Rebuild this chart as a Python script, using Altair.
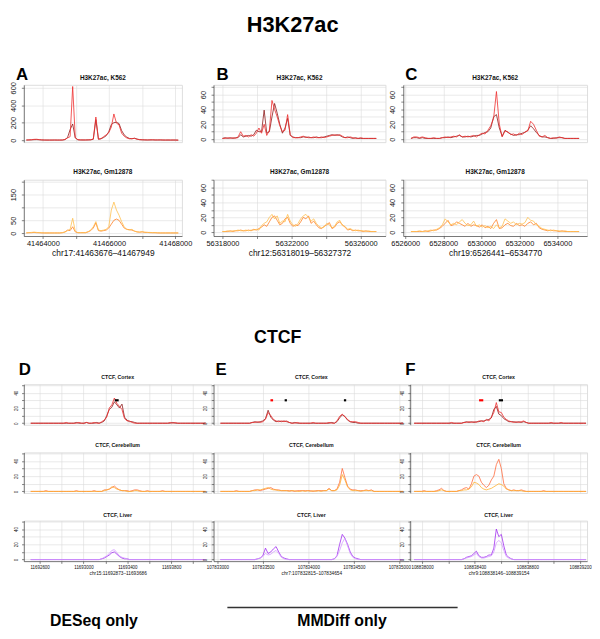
import altair as alt
import pandas as pd

FONT = "Liberation Sans"
GRID = "#dcdcdc"
AXC = "#333333"

# colours
K562_DARK, K562_RED = "#8b1a1a", "#ee2c2c"
GM_DARK, GM_LIGHT = "#ff7f24", "#ffc04d"
CER_DARK, CER_LIGHT = "#ff6a3d", "#ffb02e"
LIV_DARK, LIV_LIGHT = "#a02cf0", "#d49cff"

# ---------------- H3K27ac data ----------------
A_RANGE = [41463500, 41468090]
A_K562_RED = [2,3,5,9,10,6,3,2,1,1, 1,2,1,1,2,8,25,40,615,30, 5,3,2,2,3,4,12,265,12,18,
              40,60,85,150,300,195,175,80,45,25, 15,18,20,10,5,4,3,2,3,4, 2,2,3,2,1,2,1,2,1,0]
A_K562_DARK = [1,2,3,5,6,4,2,1,1,1, 1,1,1,1,1,6,30,120,185,25, 4,2,2,2,3,4,10,235,10,15,
               30,50,95,180,200,205,190,110,60,35, 20,15,22,12,6,4,3,2,3,3, 2,2,2,1,1,1,1,1,1,0]
A_GM_LIGHT = [2,2,3,4,3,2,2,1,1,1, 1,1,1,1,2,4,10,15,58,8, 2,2,2,2,6,12,25,45,12,10,
              12,15,25,90,121,90,70,45,25,15, 12,15,8,5,4,6,4,3,3,2, 2,2,1,1,1,1,1,1,1,1]
A_GM_DARK = [1,2,2,3,2,2,1,1,1,1, 1,1,1,1,2,5,12,10,25,5, 2,2,2,2,5,10,20,40,10,8,
             10,12,20,35,50,55,50,35,20,15, 14,12,8,5,4,5,3,3,2,2, 2,1,1,1,1,1,1,1,1,1]

B_RANGE = [56318000, 56326900]
B_K562_RED = [1,1,2,1,2,1,3,10,4,5, 3,6,4,8,15,8,20,5,12,52, 40,30,18,10,12,33,6,2,2,2,
              3,4,2,3,2,3,2,2,3,2, 3,4,5,6,5,6,4,2,2,3, 2,1,1,2,1,1,1,1,1,1]
B_K562_DARK = [1,2,1,2,1,2,2,6,3,4, 5,4,6,12,10,10,39,8,10,30, 48,35,20,8,15,28,5,3,2,2,
               2,3,3,2,2,2,3,2,2,3, 4,5,6,5,6,5,3,2,3,2, 1,2,1,1,1,1,1,1,1,1]
B_GM_LIGHT = [1,1,2,1,2,2,3,2,2,3, 2,3,3,4,3,9,12,14,20,24, 18,22,12,15,14,24,15,10,8,12,
              18,22,24,20,15,18,12,8,6,7, 12,10,6,8,14,16,9,8,4,5, 3,2,3,2,2,1,2,1,1,1]
B_GM_DARK = [1,1,1,2,1,2,2,3,2,2, 3,2,4,3,5,7,10,8,14,20, 22,16,10,12,18,20,12,8,10,9,
             14,20,18,22,12,15,10,6,5,8, 10,13,5,7,12,14,10,7,3,4, 2,3,2,2,1,2,1,1,1,1]

C_RANGE = [6526300, 6535140]
C_K562_RED = [1,3,3,2,3,2,1,1,2,1, 1,2,3,2,3,4,3,6,3,4, 3,4,5,3,6,8,7,12,18,28,
              64,20,3,11,10,6,7,5,8,6, 10,11,24,20,12,4,3,5,2,1, 2,1,3,2,1,1,1,1,1,1]
C_K562_DARK = [1,2,2,1,2,1,1,1,1,1, 1,2,2,3,2,3,4,5,3,3, 4,3,4,5,5,7,9,10,15,30,
               33,15,4,12,9,7,5,6,6,8, 9,12,18,14,9,5,3,3,2,1, 1,2,2,2,1,1,1,1,1,1]
C_GM_LIGHT = [1,1,1,2,1,1,2,3,2,4, 6,10,18,14,10,12,10,14,17,12, 9,10,15,8,10,7,9,6,8,5,
              10,6,8,18,15,12,14,10,12,11, 13,20,16,15,10,8,5,4,3,2, 3,2,2,1,2,1,1,1,1,1]
C_GM_DARK = [1,1,1,1,1,2,1,2,3,3, 5,8,12,16,9,10,14,12,10,8, 12,8,10,9,7,10,6,8,5,12,
             17,5,6,10,12,9,8,12,9,10, 8,12,14,10,12,6,4,3,2,3, 2,2,1,2,1,1,1,1,1,1]

# ---------------- CTCF data ----------------
D_RANGE = [11692519, 11694114]
D_COR_RED = [0,0,0,0,0,0,0,0,0,0, 0,0,0,0,1,0,0,0,0,1, 0,0,1,0,0,1,0,0,2,4,
             8,20,24,33,26,22,18,6,3,3, 1,0,0,0,0,0,0,0,0,0, 0,0,0,0,0,1,0,1,0,0, 0,0,0,0,0,0,0,0,0,0]
D_COR_DARK = [0,0,0,0,0,0,0,0,0,0, 0,0,0,0,0,0,0,0,1,0, 0,0,1,0,0,0,1,0,1,3,
              10,18,21,28,24,20,25,8,4,2, 2,1,0,0,0,0,0,0,0,0, 0,0,0,0,0,0,1,0,0,0, 0,0,0,0,0,0,0,0,0,0]
D_CER_DARK = [0,0,0,0,0,0,1,0,0,0, 0,0,0,0,0,0,0,0,1,0, 0,0,0,0,0,1,0,0,0,2,
              2,3,5,7,4,2,1,1,1,0, 1,2,2,1,0,0,1,0,0,0, 0,0,1,0,0,0,0,0,0,0, 0,0,0,0,0,0,0,0,0,0]
D_CER_LIGHT = [0,0,0,0,0,0,0,0,0,0, 0,0,0,0,0,0,0,0,0,0, 0,0,0,0,0,0,0,0,0,1,
               2,3,6,5,3,2,1,1,0,0, 0,1,1,0,0,0,0,0,0,0, 0,0,0,0,0,0,0,0,0,0, 0,0,0,0,0,0,0,0,0,0]
D_LIV_DARK = [0,0,0,0,0,0,0,0,0,0, 0,0,0,0,0,0,0,0,0,0, 0,0,0,0,0,0,0,0,1,2,
              4,6,9,10,7,4,2,1,1,0, 0,0,0,0,0,0,0,0,0,0, 0,0,0,0,0,0,0,0,0,0, 0,0,0,0,0,0,0,0,0,0]
D_LIV_LIGHT = [0,0,0,0,0,0,0,0,0,0, 0,0,0,0,0,0,0,0,0,0, 0,0,0,0,0,0,0,0,1,3,
               5,8,12,13,9,5,3,2,1,0, 0,0,0,0,0,0,0,0,0,0, 0,0,0,0,0,0,0,0,0,0, 0,0,0,0,0,0,0,0,0,0]
D_MARK_BLACK = [[11693285, 11693321]]
D_MARK_RED = []

E_RANGE = [107833033, 107835043]
E_COR_RED = [0,0,0,0,0,0,0,0,0,0, 0,0,1,1,2,1,2,5,14,10, 5,3,2,3,2,3,1,0,0,1,
             0,0,0,0,0,1,0,0,0,0, 0,1,0,0,3,9,12,8,5,2, 2,2,1,0,0,0,0,0,0,0, 0,0,0,0,0,0,0,0,0,0]
E_COR_DARK = [0,0,0,0,0,0,0,0,0,0, 0,0,1,2,1,2,3,6,17,8, 4,2,3,2,3,2,1,0,1,0,
              0,0,0,0,0,0,0,0,0,0, 0,0,1,0,2,7,11,9,4,2, 1,1,0,0,0,0,0,0,0,0, 0,0,0,0,0,0,0,0,0,0]
E_CER_DARK = [0,0,0,0,0,0,1,0,0,0, 0,0,1,2,2,1,2,3,4,5, 3,2,2,1,1,1,1,1,0,1,
              1,1,1,1,1,0,1,1,1,1, 1,4,1,1,3,12,30,18,7,3, 2,2,1,1,1,2,1,2,0,0, 0,0,0,0,0,0,0,0,0,0]
E_CER_LIGHT = [0,0,0,0,0,0,0,0,0,0, 0,0,1,1,2,2,3,4,5,3, 2,2,1,1,1,1,0,1,1,0,
               0,1,0,1,0,1,0,1,0,1, 1,3,1,1,2,8,22,15,6,2, 1,1,1,0,1,1,1,1,0,0, 0,0,0,0,0,0,0,0,0,0]
E_LIV_DARK = [0,0,0,0,0,0,0,0,0,0, 0,0,0,0,1,2,5,15,8,10, 14,17,10,4,2,1,0,0,0,0,
              0,0,0,0,0,0,0,0,0,0, 0,0,0,1,5,20,33,28,20,10, 4,2,1,0,0,0,0,0,0,0, 0,0,0,0,0,0,0,0,0,0]
E_LIV_LIGHT = [0,0,0,0,0,0,0,0,0,0, 0,0,0,0,1,2,4,8,6,7, 10,12,8,3,1,0,0,0,0,0,
               0,0,0,0,0,0,0,0,0,0, 0,0,0,1,4,12,22,28,18,8, 3,1,0,0,0,0,0,0,0,0, 0,0,0,0,0,0,0,0,0,0]
E_MARK_BLACK = [[107833739, 107833764], [107834391, 107834416]]
E_MARK_RED = [[107833583, 107833612]]

F_RANGE = [108837940, 108839245]
F_COR_RED = [0,0,0,0,0,0,0,0,0,0, 0,0,0,0,0,1,0,0,0,0, 1,1,2,1,2,1,3,3,2,5,
             3,8,14,27,15,14,8,5,3,2, 1,2,1,2,3,1,0,0,0,0, 0,0,0,0,0,1,0,0,0,1, 0,0,0,0,0,0,0,0,0,0]
F_COR_DARK = [0,0,0,0,0,0,0,0,0,0, 0,0,0,0,0,0,0,0,0,0, 1,2,1,2,1,2,2,3,3,4,
              5,7,18,22,12,10,6,4,2,2, 2,1,2,1,2,1,0,0,0,0, 0,0,0,0,0,0,0,0,0,0, 0,0,0,0,0,0,0,0,0,0]
F_CER_DARK = [0,0,0,0,1,0,0,0,0,1, 2,4,1,0,0,0,0,0,1,2, 4,5,3,10,20,22,20,12,8,5,
              8,15,20,35,42,30,10,4,2,1, 2,1,1,2,1,0,0,0,0,0, 0,0,1,0,0,0,0,0,0,0, 0,0,0,0,0,0,0,0,0,0]
F_CER_LIGHT = [0,0,0,0,0,0,0,0,0,0, 1,2,1,0,0,0,0,0,1,1, 2,2,3,6,12,11,9,5,3,2,
               3,4,6,8,10,9,7,3,2,1, 1,1,1,1,0,0,0,0,0,0, 0,0,0,0,0,0,0,0,0,0, 0,0,0,0,0,0,0,0,0,0]
F_LIV_DARK = [0,0,0,0,0,0,0,0,0,0, 0,0,0,0,0,0,0,0,0,0, 1,3,4,5,8,11,5,3,3,4,
              6,6,15,40,30,33,18,6,3,1, 0,0,0,0,0,0,0,0,0,0, 0,0,0,0,0,0,0,0,0,0, 0,0,0,0,0,0,0,0,0,0]
F_LIV_LIGHT = [0,0,0,0,0,0,0,0,0,0, 0,0,0,0,0,0,0,0,0,0, 1,2,3,4,6,8,4,2,2,3,
               4,5,10,22,25,22,12,4,2,1, 0,0,0,0,0,0,0,0,0,0, 0,0,0,0,0,0,0,0,0,0, 0,0,0,0,0,0,0,0,0,0]
F_MARK_BLACK = [[108838583, 108838615]]
F_MARK_RED = [[108838433, 108838465]]
MARK_LEVEL = 30

# tick values / labels
A_XT = [41464000, 41465000, 41466000, 41467000, 41468000]
A_XL = [41464000, 41466000, 41468000]
B_XT = [56318000, 56320000, 56322000, 56324000, 56326000]
B_XL = [56318000, 56322000, 56326000]
C_XT = [6526000, 6528000, 6530000, 6532000, 6534000]
D_XT = [11692600, 11692800, 11693000, 11693200, 11693400, 11693600, 11693800, 11694000]
D_XL = [11692600, 11693000, 11693400, 11693800]
E_XT = [107833000, 107833500, 107834000, 107834500, 107835000]
F_XT = [108838000, 108838200, 108838400, 108838600, 108838800, 108839000, 108839200]
F_XL = [108838000, 108838400, 108838800, 108839200]
Y_A1 = [0, 200, 400, 600]
Y_A2 = [0, 50, 100, 150, 200]
Y_A2L = [0, 50, 150]
Y_BC = [0, 10, 20, 30, 40, 50, 60, 70]
Y_BCL = [0, 20, 40, 60]
Y_CT = [0, 10, 20, 30, 40, 50]
Y_CTL = [0, 20, 40]


def series_df(rng, vals):
    n = len(vals)
    step = (rng[1] - rng[0]) / (n - 1)
    return pd.DataFrame({"pos": [rng[0] + i * step for i in range(n)], "val": vals})


def lab_expr(labs):
    return "indexof([" + ",".join(str(v) for v in labs) + "], datum.value) >= 0 ? datum.label : ''"


def text_layer(t, x, y, size, align="center"):
    return alt.Chart(pd.DataFrame({"a": [0]})).mark_text(
        text=t, font=FONT, fontSize=size, fontWeight="bold", align=align,
        baseline="middle", color="#000").encode(x=alt.value(x), y=alt.value(y))


def panel(rng, back, front, cols, xdom, ydom, w, h, title, tsize, ty,
          yvals, ylabs, xvals, lsize, xlabs=None, xtitle=None, xtsize=8,
          marks=None, tick=2.5, ypad=4, extra_text=(), extra_rules=()):
    xs = alt.Scale(domain=xdom, nice=False, zero=False)
    ys = alt.Scale(domain=ydom, nice=False, zero=False)
    yax = alt.Axis(values=yvals, labelExpr=lab_expr(ylabs), format="d", labelAngle=270,
                   labelAlign="center", labelBaseline="bottom", labelFontSize=lsize,
                   labelFont=FONT, labelColor="#111", labelPadding=ypad, tickSize=tick,
                   tickColor=AXC, tickWidth=0.6, domainColor=AXC, domainWidth=0.6,
                   grid=True, gridColor=GRID, gridWidth=0.6, title=None, labelOverlap=False)
    if xlabs is None:
        xax = alt.Axis(values=xvals, labels=False, ticks=False, domain=False, grid=True,
                       gridColor=GRID, gridWidth=0.6, title=None)
    else:
        xax = alt.Axis(values=xvals, labelExpr=lab_expr(xlabs), format="d", labelFontSize=lsize,
                       labelFont=FONT, labelColor="#111", labelPadding=1.5, tickSize=tick,
                       tickColor=AXC, tickWidth=0.6, domainColor=AXC, domainWidth=0.6,
                       grid=True, gridColor=GRID, gridWidth=0.6, title=xtitle, titleFont=FONT,
                       titleFontSize=xtsize, titleFontWeight="normal", titleColor="#111",
                       titlePadding=1.5, labelFlush=False, labelOverlap=False)
    layers = []
    for vals, col in ((back, cols[0]), (front, cols[1])):
        layers.append(alt.Chart(series_df(rng, vals)).mark_line(
            stroke=col, strokeWidth=0.8, clip=True).encode(
            x=alt.X("pos:Q", scale=xs, axis=xax), y=alt.Y("val:Q", scale=ys, axis=yax)))
    if marks:
        for segs, col in marks:
            if not segs:
                continue
            mdf = pd.DataFrame({"x1": [s[0] for s in segs], "x2": [s[1] for s in segs],
                                "y": [MARK_LEVEL] * len(segs)})
            layers.append(alt.Chart(mdf).mark_rule(stroke=col, strokeWidth=2.2).encode(
                x=alt.X("x1:Q", scale=xs, axis=xax), x2="x2:Q",
                y=alt.Y("y:Q", scale=ys, axis=yax)))
    # panel title
    layers.append(alt.Chart(pd.DataFrame({"a": [0]})).mark_text(
        text=title, font=FONT, fontSize=tsize, fontWeight="bold", align="center",
        baseline="middle", color="#111").encode(x=alt.value(w / 2), y=alt.value(ty)))
    for t, x, y, size, align in extra_text:
        layers.append(text_layer(t, x, y, size, align))
    for x1, x2, y in extra_rules:
        layers.append(alt.Chart(pd.DataFrame({"a": [0]})).mark_rule(
            stroke="#333", strokeWidth=1.4).encode(x=alt.value(x1), x2=alt.value(x2), y=alt.value(y)))
    return alt.layer(*layers).properties(width=w, height=h)


def spacer(w, h):
    return alt.Chart(pd.DataFrame({"a": [0]})).mark_point(opacity=0).properties(width=w, height=h)


# ---------------- section 1 : H3K27ac ----------------
W1 = [13, 160, 32, 174, 18, 186]
H1 = [74, 58, 38, 57, 27]
TOP_LS, TOP_TS, TOP_TT = 7.5, 8.5, 6.5

A_DOM = [41463424, 41468200]
B_DOM = [56317486, 56327430]
C_DOM = [6525896, 6535558]

a1 = panel(A_RANGE, A_K562_DARK, A_K562_RED, (K562_DARK, K562_RED), A_DOM, [-23, 634], W1[1], H1[1],
           "H3K27ac, K562", TOP_TT, -6.5, Y_A1, Y_A1, A_XT, TOP_LS,
           extra_text=[("A", -8, -10, 17, "left")])
b1 = panel(B_RANGE, B_K562_DARK, B_K562_RED, (K562_DARK, K562_RED), B_DOM, [-4, 73], W1[3], H1[1],
           "H3K27ac, K562", TOP_TT, -6.5, Y_BC, Y_BCL, B_XT, TOP_LS,
           extra_text=[("B", 3, -10, 17, "left"), ("H3K27ac", 80, -60, 22, "center")])
c1 = panel(C_RANGE, C_K562_DARK, C_K562_RED, (K562_DARK, K562_RED), C_DOM, [-4, 73], W1[5], H1[1],
           "H3K27ac, K562", TOP_TT, -6.5, Y_BC, Y_BCL, C_XT, TOP_LS,
           extra_text=[("C", 2, -10, 17, "left")])
a2 = panel(A_RANGE, A_GM_DARK, A_GM_LIGHT, (GM_DARK, GM_LIGHT), A_DOM, [-11, 208], W1[1], H1[3],
           "H3K27ac, Gm12878", TOP_TT, -8, Y_A2, Y_A2L, A_XT, TOP_LS, xlabs=A_XL,
           xtitle="chr17:41463676\u201341467949", xtsize=TOP_TS)
b2 = panel(B_RANGE, B_GM_DARK, B_GM_LIGHT, (GM_DARK, GM_LIGHT), B_DOM, [-5, 70.5], W1[3], H1[3],
           "H3K27ac, Gm12878", TOP_TT, -8, Y_BC, Y_BCL, B_XT, TOP_LS, xlabs=B_XL,
           xtitle="chr12:56318019\u201356327372", xtsize=TOP_TS)
c2 = panel(C_RANGE, C_GM_DARK, C_GM_LIGHT, (GM_DARK, GM_LIGHT), C_DOM, [-5, 70.5], W1[5], H1[3],
           "H3K27ac, Gm12878", TOP_TT, -8, Y_BC, Y_BCL, C_XT, TOP_LS, xlabs=C_XT,
           xtitle="chr19:6526441\u20136534770", xtsize=TOP_TS)

cells1 = []
cells1 += [spacer(w, H1[0]) for w in W1]
cells1 += [spacer(W1[0], H1[1]), a1, spacer(W1[2], H1[1]), b1, spacer(W1[4], H1[1]), c1]
cells1 += [spacer(w, H1[2]) for w in W1]
cells1 += [spacer(W1[0], H1[3]), a2, spacer(W1[2], H1[3]), b2, spacer(W1[4], H1[3]), c2]
cells1 += [spacer(w, H1[4]) for w in W1]
sec1 = alt.concat(*cells1, columns=6, spacing=0, bounds="flush", align="each")

# ---------------- section 2 : CTCF ----------------
W2 = [13, 190, 2, 198, 1, 179]
H2 = [123, 41, 28, 41, 28, 41, 62]
CT_LS, CT_TS, CT_TT = 4.5, 4.8, 5.3
CT_Y = [-2, 51]

D_DOM = [11692456, 11694168]
E_DOM = [107832957, 107835109]
F_DOM = [108837910, 108839253]

d1 = panel(D_RANGE, D_COR_DARK, D_COR_RED, (K562_DARK, K562_RED), D_DOM, CT_Y, W2[1], H2[1],
           "CTCF, Cortex", CT_TT, -7, Y_CT, Y_CTL, D_XT, CT_LS,
           marks=[(D_MARK_RED, "#ff0000"), (D_MARK_BLACK, "#000000")], tick=2.3, ypad=3.5,
           extra_text=[("D", -5, -14, 17, "left")])
e1 = panel(E_RANGE, E_COR_DARK, E_COR_RED, (K562_DARK, K562_RED), E_DOM, CT_Y, W2[3], H2[1],
           "CTCF, Cortex", CT_TT, -7, Y_CT, Y_CTL, E_XT, CT_LS,
           marks=[(E_MARK_RED, "#ff0000"), (E_MARK_BLACK, "#000000")], tick=2.3, ypad=3.5,
           extra_text=[("E", 2, -14, 17, "left"), ("CTCF", 65, -47, 18, "center")])
f1 = panel(F_RANGE, F_COR_DARK, F_COR_RED, (K562_DARK, K562_RED), F_DOM, CT_Y, W2[5], H2[1],
           "CTCF, Cortex", CT_TT, -7, Y_CT, Y_CTL, F_XT, CT_LS,
           marks=[(F_MARK_RED, "#ff0000"), (F_MARK_BLACK, "#000000")], tick=2.3, ypad=3.5,
           extra_text=[("F", -5, -14, 17, "left")])
d2 = panel(D_RANGE, D_CER_DARK, D_CER_LIGHT, (CER_DARK, CER_LIGHT), D_DOM, CT_Y, W2[1], H2[3],
           "CTCF, Cerebellum", CT_TT, -7, Y_CT, Y_CTL, D_XT, CT_LS, tick=2.3, ypad=3.5)
e2 = panel(E_RANGE, E_CER_DARK, E_CER_LIGHT, (CER_DARK, CER_LIGHT), E_DOM, CT_Y, W2[3], H2[3],
           "CTCF, Cerebellum", CT_TT, -7, Y_CT, Y_CTL, E_XT, CT_LS, tick=2.3, ypad=3.5)
f2 = panel(F_RANGE, F_CER_DARK, F_CER_LIGHT, (CER_DARK, CER_LIGHT), F_DOM, CT_Y, W2[5], H2[3],
           "CTCF, Cerebellum", CT_TT, -7, Y_CT, Y_CTL, F_XT, CT_LS, tick=2.3, ypad=3.5)
d3 = panel(D_RANGE, D_LIV_DARK, D_LIV_LIGHT, (LIV_DARK, LIV_LIGHT), D_DOM, CT_Y, W2[1], H2[5],
           "CTCF, Liver", CT_TT, -6, Y_CT, Y_CTL, D_XT, CT_LS, xlabs=D_XL,
           xtitle="chr15:11692873\u201311693686", xtsize=CT_TS, tick=2.3, ypad=3.5,
           extra_text=[("DESeq only", 71, 102, 16, "center")])
e3 = panel(E_RANGE, E_LIV_DARK, E_LIV_LIGHT, (LIV_DARK, LIV_LIGHT), E_DOM, CT_Y, W2[3], H2[5],
           "CTCF, Liver", CT_TT, -6, Y_CT, Y_CTL, E_XT, CT_LS, xlabs=E_XT,
           xtitle="chr7:107832815\u2013107834654", xtsize=CT_TS, tick=2.3, ypad=3.5,
           extra_text=[("MMDiff only", 130, 102, 16, "center")],
           extra_rules=[(14, 247, 88)])
f3 = panel(F_RANGE, F_LIV_DARK, F_LIV_LIGHT, (LIV_DARK, LIV_LIGHT), F_DOM, CT_Y, W2[5], H2[5],
           "CTCF, Liver", CT_TT, -6, Y_CT, Y_CTL, F_XT, CT_LS, xlabs=F_XL,
           xtitle="chr9:108838146\u2013108839154", xtsize=CT_TS, tick=2.3, ypad=3.5)

cells2 = []
cells2 += [spacer(w, H2[0]) for w in W2]
cells2 += [spacer(W2[0], H2[1]), d1, spacer(W2[2], H2[1]), e1, spacer(W2[4], H2[1]), f1]
cells2 += [spacer(w, H2[2]) for w in W2]
cells2 += [spacer(W2[0], H2[3]), d2, spacer(W2[2], H2[3]), e2, spacer(W2[4], H2[3]), f2]
cells2 += [spacer(w, H2[4]) for w in W2]
cells2 += [spacer(W2[0], H2[5]), d3, spacer(W2[2], H2[5]), e3, spacer(W2[4], H2[5]), f3]
cells2 += [spacer(w, H2[6]) for w in W2]
sec2 = alt.concat(*cells2, columns=6, spacing=0, bounds="flush", align="each")

chart = (alt.vconcat(sec1, sec2, spacing=0, padding=0)
         .configure_view(stroke="transparent", strokeWidth=0)
         .configure(font=FONT))

chart.save("out.html", embed_options={"renderer": "svg", "actions": False})
